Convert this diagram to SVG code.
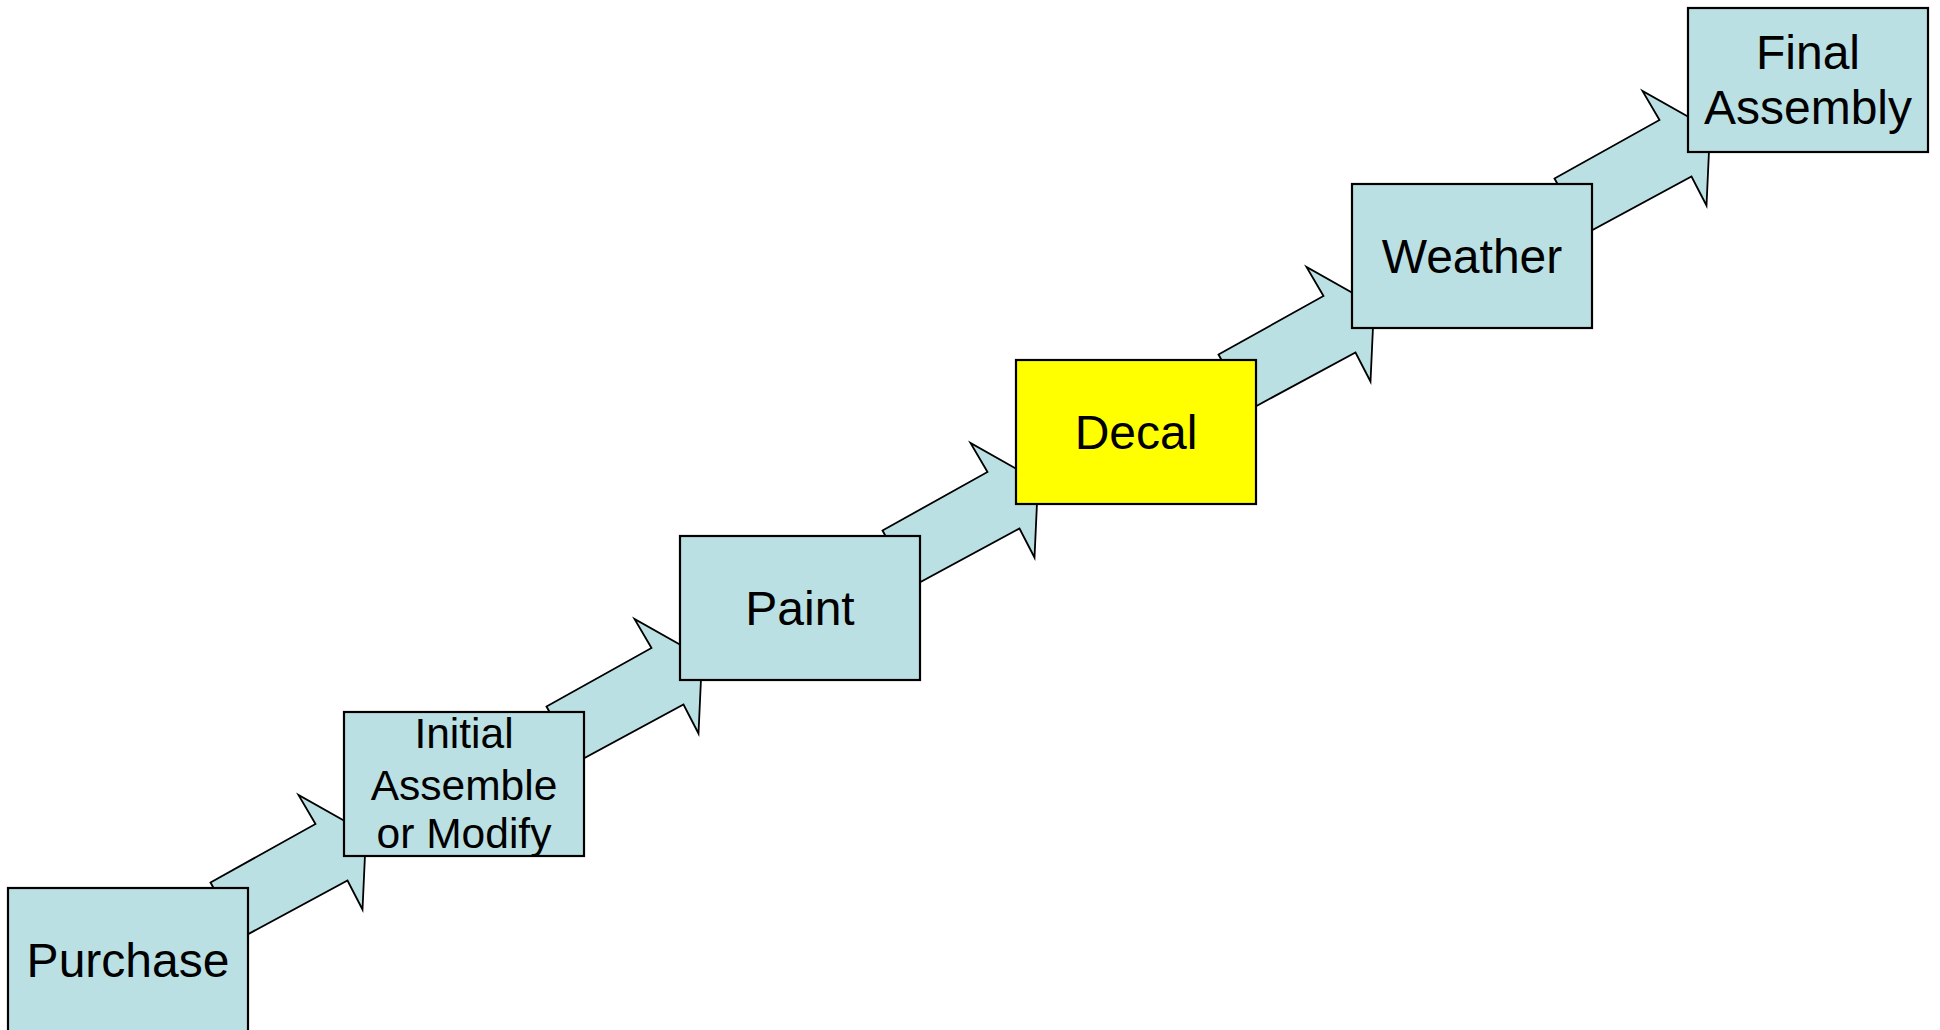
<svg xmlns="http://www.w3.org/2000/svg" xmlns:xlink="http://www.w3.org/1999/xlink" width="1940" height="1030" viewBox="0 0 1940 1030">
<style>
.box{fill:#BBE0E3;stroke:#000;stroke-width:2.2}
.hl{fill:#FFFF00;stroke:#000;stroke-width:2.2}
.arrow{fill:#BBE0E3;stroke:#000;stroke-width:1.8;stroke-linejoin:miter}
.lbl{font-family:"Liberation Sans",Arial,sans-serif;font-size:48px;fill:#000;text-anchor:middle}
.lbl2{font-family:"Liberation Sans",Arial,sans-serif;font-size:42.5px;fill:#000;text-anchor:middle}
</style>
<defs>
<polygon id="arr" points="210.5,882.5 315.5,824 298.5,795 366,833 362.5,909.5 347.5,880.5 241.5,937.7"/>
</defs>
<rect width="1940" height="1030" fill="#fff"/>
<g id="connectors">
<use xlink:href="#arr" href="#arr" class="arrow"/>
<use xlink:href="#arr" href="#arr" class="arrow" transform="translate(336,-176)"/>
<use xlink:href="#arr" href="#arr" class="arrow" transform="translate(672,-352)"/>
<use xlink:href="#arr" href="#arr" class="arrow" transform="translate(1008,-528)"/>
<use xlink:href="#arr" href="#arr" class="arrow" transform="translate(1344,-704)"/>
</g>
<g id="purchase">
<rect class="box" x="8" y="888" width="240" height="160"/>
<text class="lbl" x="128" y="977">Purchase</text>
</g>
<g id="initial">
<rect class="box" x="344" y="712" width="240" height="144"/>
<text class="lbl2" x="464" y="748">Initial</text>
<text class="lbl2" x="464" y="800">Assemble</text>
<text class="lbl2" x="464" y="848">or Modify</text>
</g>
<g id="paint">
<rect class="box" x="680" y="536" width="240" height="144"/>
<text class="lbl" x="800" y="625">Paint</text>
</g>
<g id="decal">
<rect class="hl" x="1016" y="360" width="240" height="144"/>
<text class="lbl" x="1136" y="449">Decal</text>
</g>
<g id="weather">
<rect class="box" x="1352" y="184" width="240" height="144"/>
<text class="lbl" x="1472" y="273">Weather</text>
</g>
<g id="final">
<rect class="box" x="1688" y="8" width="240" height="144"/>
<text class="lbl" x="1808" y="69">Final</text>
<text class="lbl" x="1808" y="124">Assembly</text>
</g>
</svg>
